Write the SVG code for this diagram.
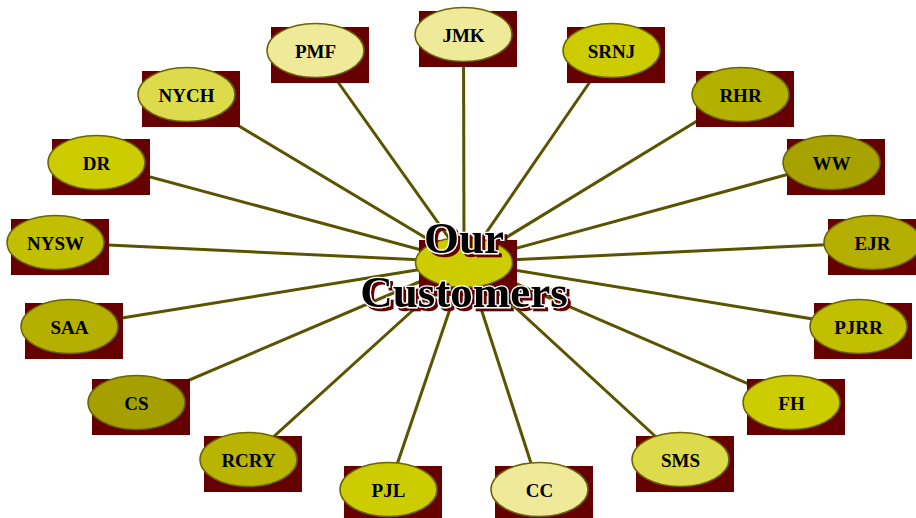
<svg xmlns="http://www.w3.org/2000/svg" width="916" height="518" viewBox="0 0 916 518">
<style>
.bg{fill:#660000}
.el{stroke:#6b6400;stroke-width:1.5}
.lb{font-family:"Liberation Serif",serif;font-weight:bold;font-size:19px;fill:#000;text-anchor:middle}
.ln{stroke:#5a5300;stroke-width:3;fill:none}
.big{font-family:"Liberation Serif",serif;font-weight:bold;font-size:45px;text-anchor:middle;fill:#000;stroke:#fff;stroke-width:2.5;paint-order:stroke;filter:url(#shadow)}
</style>
<defs>
<g id="shape"><rect class="bg" x="0" y="0" width="98" height="56"/></g>
<filter id="shadow" x="-10%" y="-20%" width="130%" height="150%">
<feOffset in="SourceAlpha" dx="3" dy="3" result="off"/>
<feFlood flood-color="#660000"/>
<feComposite in2="off" operator="in" result="sh"/>
<feMerge><feMergeNode in="sh"/><feMergeNode in="SourceGraphic"/></feMerge>
</filter>
</defs>
<rect width="916" height="518" fill="#fff"/>
<g id="connectors">
<line class="ln" x1="466" y1="262" x2="315.5" y2="50.5"/>
<line class="ln" x1="464" y1="262" x2="463.5" y2="34.5"/>
<line class="ln" x1="466" y1="262" x2="611.5" y2="50.5"/>
<line class="ln" x1="466" y1="262" x2="740.5" y2="94.5"/>
<line class="ln" x1="466" y1="262" x2="831.5" y2="162.5"/>
<line class="ln" x1="466" y1="262" x2="872.5" y2="242.5"/>
<line class="ln" x1="466" y1="262" x2="858.5" y2="326.5"/>
<line class="ln" x1="466" y1="262" x2="791.5" y2="402.5"/>
<line class="ln" x1="466" y1="262" x2="680.5" y2="459.5"/>
<line class="ln" x1="466" y1="262" x2="539.5" y2="489.5"/>
<line class="ln" x1="466" y1="262" x2="388.5" y2="489.5"/>
<line class="ln" x1="466" y1="262" x2="248.5" y2="459.5"/>
<line class="ln" x1="466" y1="262" x2="136.5" y2="402.5"/>
<line class="ln" x1="466" y1="262" x2="69.5" y2="326.5"/>
<line class="ln" x1="466" y1="262" x2="55.5" y2="242.5"/>
<line class="ln" x1="466" y1="262" x2="96.5" y2="162.5"/>
<line class="ln" x1="466" y1="262" x2="186.5" y2="94.5"/>
</g>
<g id="node-PMF" transform="translate(271,27)"><use href="#shape"/><ellipse class="el" cx="44.5" cy="23.5" rx="48.5" ry="27" fill="#eeea99"/><text class="lb" x="44.5" y="30.5">PMF</text></g>
<g id="node-JMK" transform="translate(419,11)"><use href="#shape"/><ellipse class="el" cx="44.5" cy="23.5" rx="48.5" ry="27" fill="#eeea99"/><text class="lb" x="44.5" y="30.5">JMK</text></g>
<g id="node-SRNJ" transform="translate(567,27)"><use href="#shape"/><ellipse class="el" cx="44.5" cy="23.5" rx="48.5" ry="27" fill="#cccc00"/><text class="lb" x="44.5" y="30.5">SRNJ</text></g>
<g id="node-RHR" transform="translate(696,71)"><use href="#shape"/><ellipse class="el" cx="44.5" cy="23.5" rx="48.5" ry="27" fill="#b3b000"/><text class="lb" x="44.5" y="30.5">RHR</text></g>
<g id="node-WW" transform="translate(787,139)"><use href="#shape"/><ellipse class="el" cx="44.5" cy="23.5" rx="48.5" ry="27" fill="#a8a200"/><text class="lb" x="44.5" y="30.5">WW</text></g>
<g id="node-EJR" transform="translate(828,219)"><use href="#shape"/><ellipse class="el" cx="44.5" cy="23.5" rx="48.5" ry="27" fill="#b3ae00"/><text class="lb" x="44.5" y="30.5">EJR</text></g>
<g id="node-PJRR" transform="translate(814,303)"><use href="#shape"/><ellipse class="el" cx="44.5" cy="23.5" rx="48.5" ry="27" fill="#c2be00"/><text class="lb" x="44.5" y="30.5">PJRR</text></g>
<g id="node-FH" transform="translate(747,379)"><use href="#shape"/><ellipse class="el" cx="44.5" cy="23.5" rx="48.5" ry="27" fill="#cccc00"/><text class="lb" x="44.5" y="30.5">FH</text></g>
<g id="node-SMS" transform="translate(636,436)"><use href="#shape"/><ellipse class="el" cx="44.5" cy="23.5" rx="48.5" ry="27" fill="#dddb4c"/><text class="lb" x="44.5" y="30.5">SMS</text></g>
<g id="node-CC" transform="translate(495,466)"><use href="#shape"/><ellipse class="el" cx="44.5" cy="23.5" rx="48.5" ry="27" fill="#eeea99"/><text class="lb" x="44.5" y="30.5">CC</text></g>
<g id="node-PJL" transform="translate(344,466)"><use href="#shape"/><ellipse class="el" cx="44.5" cy="23.5" rx="48.5" ry="27" fill="#cccc00"/><text class="lb" x="44.5" y="30.5">PJL</text></g>
<g id="node-RCRY" transform="translate(204,436)"><use href="#shape"/><ellipse class="el" cx="44.5" cy="23.5" rx="48.5" ry="27" fill="#b8b400"/><text class="lb" x="44.5" y="30.5">RCRY</text></g>
<g id="node-CS" transform="translate(92,379)"><use href="#shape"/><ellipse class="el" cx="44.5" cy="23.5" rx="48.5" ry="27" fill="#a5a000"/><text class="lb" x="44.5" y="30.5">CS</text></g>
<g id="node-SAA" transform="translate(25,303)"><use href="#shape"/><ellipse class="el" cx="44.5" cy="23.5" rx="48.5" ry="27" fill="#b5b000"/><text class="lb" x="44.5" y="30.5">SAA</text></g>
<g id="node-NYSW" transform="translate(11,219)"><use href="#shape"/><ellipse class="el" cx="44.5" cy="23.5" rx="48.5" ry="27" fill="#c2be00"/><text class="lb" x="44.5" y="30.5">NYSW</text></g>
<g id="node-DR" transform="translate(52,139)"><use href="#shape"/><ellipse class="el" cx="44.5" cy="23.5" rx="48.5" ry="27" fill="#cccc00"/><text class="lb" x="44.5" y="30.5">DR</text></g>
<g id="node-NYCH" transform="translate(142,71)"><use href="#shape"/><ellipse class="el" cx="44.5" cy="23.5" rx="48.5" ry="27" fill="#dddb4c"/><text class="lb" x="44.5" y="30.5">NYCH</text></g>
<g id="node-center" transform="translate(419,240)"><use href="#shape"/><ellipse class="el" cx="45" cy="22.5" rx="48.5" ry="25" fill="#cccc00"/>
<text class="big" x="45" y="13">Our</text>
<text class="big" x="45" y="67">Customers</text>
</g>
</svg>
